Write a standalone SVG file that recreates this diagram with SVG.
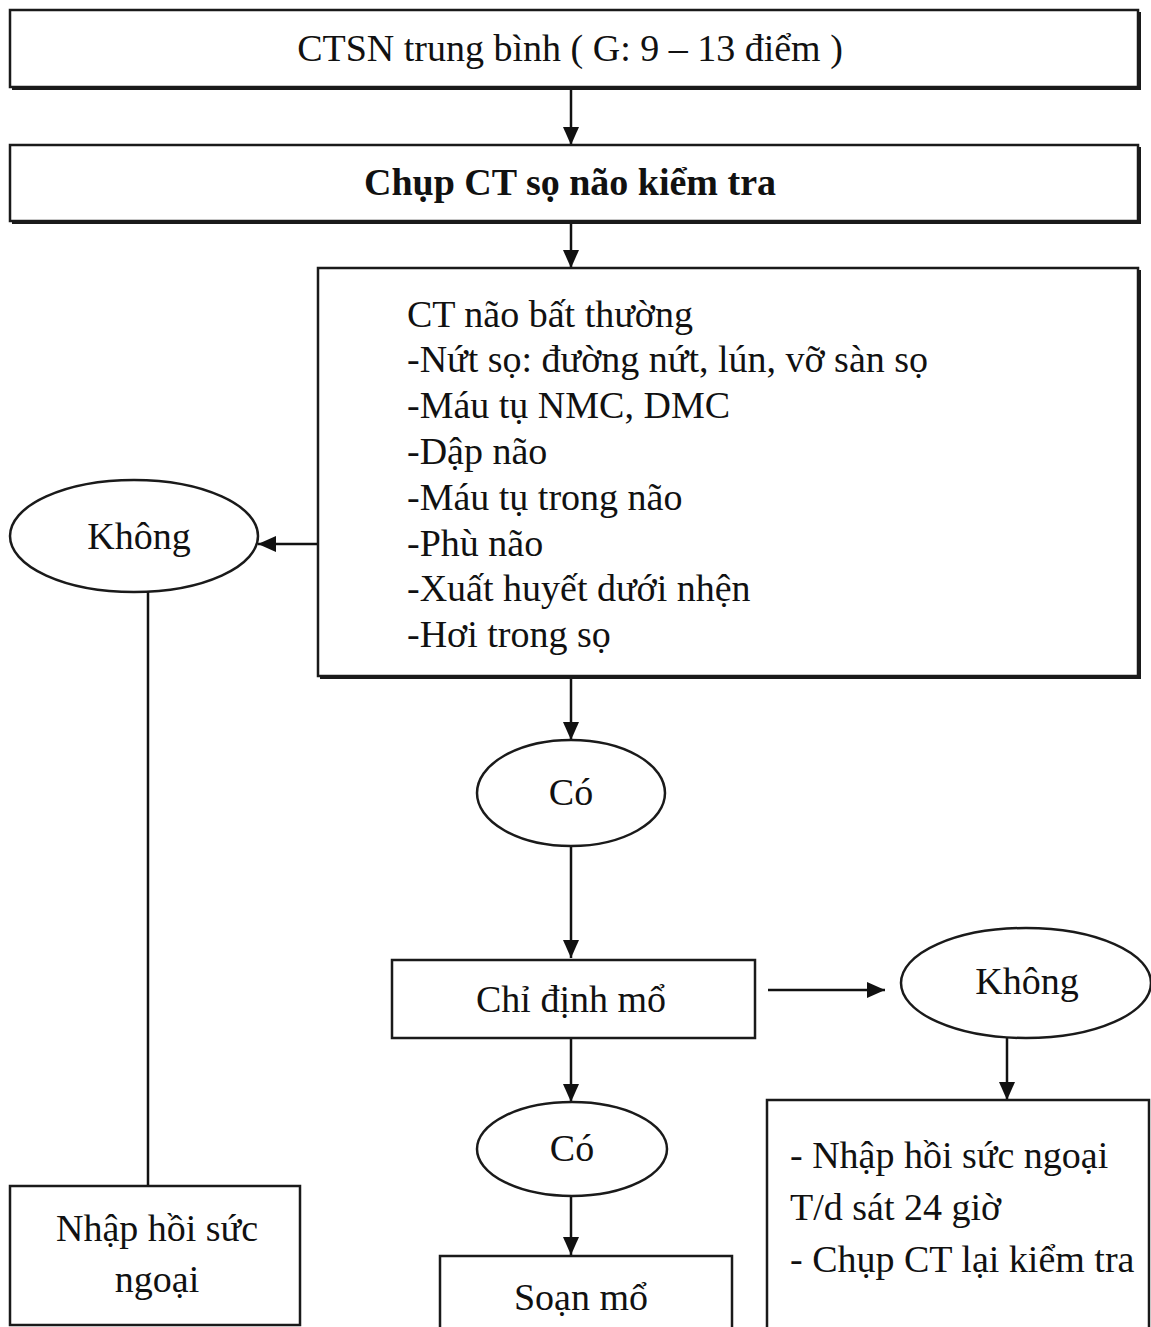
<svg xmlns="http://www.w3.org/2000/svg" width="1151" height="1327" viewBox="0 0 1151 1327">
<defs>
<marker id="arrow" viewBox="0 0 18 16" refX="18" refY="8" markerWidth="18" markerHeight="16" markerUnits="userSpaceOnUse" orient="auto">
<path d="M0,0 L18,8 L0,16 z" fill="#111"/>
</marker>
</defs>
<style>
.box{fill:#fff;stroke:#1a1a1a;stroke-width:2.5}
.shadow{fill:none;stroke:#1a1a1a;stroke-width:2}
.ell{fill:#fff;stroke:#1a1a1a;stroke-width:2.5}
.t{font-family:"Liberation Serif","Times New Roman",serif;font-size:38px;fill:#111}
.c{text-anchor:middle}
.b{font-weight:bold}
.line{fill:none;stroke:#111;stroke-width:2.5}
</style>
<rect width="1151" height="1327" fill="#fff"/>
<g id="connectors">
<line class="line" x1="571" y1="88" x2="571" y2="145" marker-end="url(#arrow)"/>
<line class="line" x1="571" y1="222" x2="571" y2="268" marker-end="url(#arrow)"/>
<line class="line" x1="318" y1="544" x2="258" y2="544" marker-end="url(#arrow)"/>
<line class="line" x1="148" y1="592" x2="148" y2="1186"/>
<line class="line" x1="571" y1="677" x2="571" y2="740" marker-end="url(#arrow)"/>
<line class="line" x1="571" y1="845" x2="571" y2="958" marker-end="url(#arrow)"/>
<line class="line" x1="768" y1="990" x2="885" y2="990" marker-end="url(#arrow)"/>
<line class="line" x1="1007" y1="1038" x2="1007" y2="1100" marker-end="url(#arrow)"/>
<line class="line" x1="571" y1="1038" x2="571" y2="1102" marker-end="url(#arrow)"/>
<line class="line" x1="571" y1="1195" x2="571" y2="1255" marker-end="url(#arrow)"/>
</g>
<g id="n1">
<rect class="box" x="10" y="10" width="1128" height="77"/>
<polyline class="shadow" points="12,89 1140,89 1140,12"/>
<text class="t c" x="570" y="61">CTSN trung bình ( G: 9 – 13 điểm )</text>
</g>
<g id="n2">
<rect class="box" x="10" y="145" width="1128" height="76"/>
<polyline class="shadow" points="12,223 1140,223 1140,147"/>
<text class="t c b" x="570" y="195">Chụp CT sọ não kiểm tra</text>
</g>
<g id="n3">
<rect class="box" x="318" y="268" width="820" height="408"/>
<polyline class="shadow" points="320,678 1140,678 1140,270"/>
<text class="t" x="407" y="327">CT não bất thường</text>
<text class="t" x="407" y="372">-Nứt sọ: đường nứt, lún, vỡ sàn sọ</text>
<text class="t" x="407" y="418">-Máu tụ NMC, DMC</text>
<text class="t" x="407" y="464">-Dập não</text>
<text class="t" x="407" y="510">-Máu tụ trong não</text>
<text class="t" x="407" y="556">-Phù não</text>
<text class="t" x="407" y="601">-Xuất huyết dưới nhện</text>
<text class="t" x="407" y="647">-Hơi trong sọ</text>
</g>
<g id="n4">
<ellipse class="ell" cx="134" cy="536" rx="124" ry="56"/>
<text class="t c" x="139" y="549">Không</text>
</g>
<g id="n5">
<rect class="box" x="10" y="1186" width="290" height="139"/>
<text class="t c" x="157" y="1241">Nhập hồi sức</text>
<text class="t c" x="157" y="1292">ngoại</text>
</g>
<g id="n6">
<ellipse class="ell" cx="571" cy="793" rx="94" ry="53"/>
<text class="t c" x="571" y="805">Có</text>
</g>
<g id="n7">
<rect class="box" x="392" y="960" width="363" height="78"/>
<text class="t c" x="571" y="1012">Chỉ định mổ</text>
</g>
<g id="n8">
<ellipse class="ell" cx="1026" cy="983" rx="125" ry="55"/>
<text class="t c" x="1027" y="994">Không</text>
</g>
<g id="n9">
<rect class="box" x="767" y="1100" width="382" height="230"/>
<text class="t" x="790" y="1168">- Nhập hồi sức ngoại</text>
<text class="t" x="790" y="1220">T/d sát 24 giờ</text>
<text class="t" x="790" y="1272">- Chụp CT lại kiểm tra</text>
</g>
<g id="n10">
<ellipse class="ell" cx="572" cy="1149" rx="95" ry="47"/>
<text class="t c" x="572" y="1161">Có</text>
</g>
<g id="n11">
<rect class="box" x="440" y="1256" width="292" height="75"/>
<text class="t c" x="581" y="1310">Soạn mổ</text>
</g>
</svg>
